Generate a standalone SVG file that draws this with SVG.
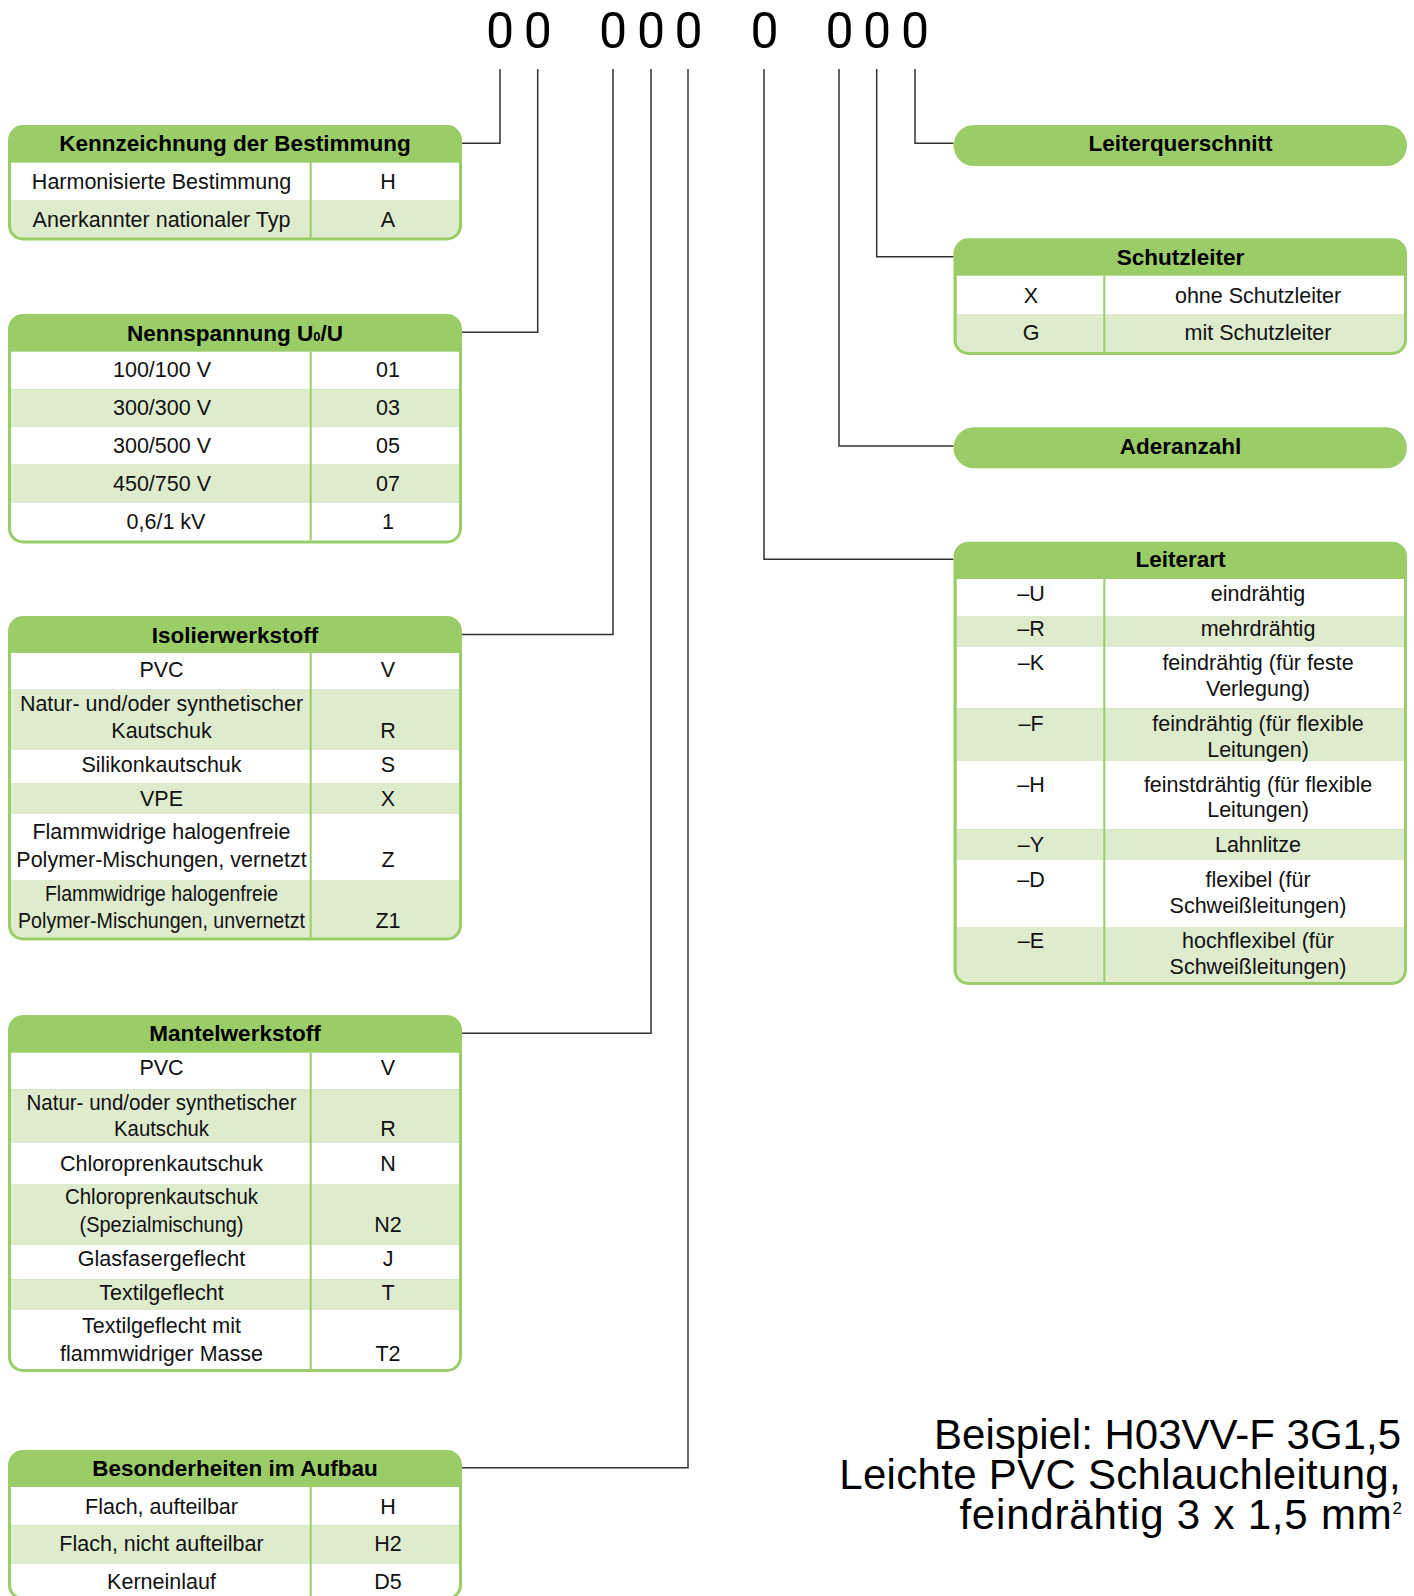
<svg xmlns="http://www.w3.org/2000/svg" width="1414" height="1596" viewBox="0 0 1414 1596">
<defs>
<style>
.frame{fill:#9ACD68}
.w{fill:#FFFFFF}
.l{fill:#DEEBCD}
.dv{stroke:#9ACD68;stroke-width:2}
.h{font-family:"Liberation Sans",Arial,sans-serif;font-weight:bold;font-size:22.5px;text-anchor:middle;fill:#000}
.t{font-family:"Liberation Sans",Arial,sans-serif;font-size:21.5px;text-anchor:middle;fill:#111}
.conn{fill:none;stroke:#333;stroke-width:1.5}
.dig{font-family:Roboto,"Liberation Sans",sans-serif;font-weight:400;font-size:50px;text-anchor:middle;fill:#000}
.ex{font-family:"Liberation Sans",Arial,sans-serif;font-size:42px;text-anchor:end;fill:#000}
</style>
<clipPath id="c1"><rect x="11" y="142" width="448" height="95.5" rx="12"/></clipPath>
<clipPath id="c2"><rect x="11" y="331" width="448" height="209.5" rx="12"/></clipPath>
<clipPath id="c3"><rect x="11" y="633" width="448" height="304.5" rx="12"/></clipPath>
<clipPath id="c4"><rect x="11" y="1032" width="448" height="337" rx="12"/></clipPath>
<clipPath id="c5"><rect x="11" y="1467" width="448" height="130" rx="12"/></clipPath>
<clipPath id="c6"><rect x="956.5" y="255" width="447.5" height="97" rx="12"/></clipPath>
<clipPath id="c7"><rect x="956.5" y="559" width="447.5" height="423" rx="12"/></clipPath>
</defs>

<g id="code-digits">
<text class="dig" x="500" y="48">0</text>
<text class="dig" x="537.7" y="48">0</text>
<text class="dig" x="613" y="48">0</text>
<text class="dig" x="651" y="48">0</text>
<text class="dig" x="688.5" y="48">0</text>
<text class="dig" x="764.5" y="48">0</text>
<text class="dig" x="839.5" y="48">0</text>
<text class="dig" x="877" y="48">0</text>
<text class="dig" x="915" y="48">0</text>
</g>

<g id="connectors">
<path class="conn" d="M500,69 V143.3 H462"/>
<path class="conn" d="M537.7,69 V332.3 H462"/>
<path class="conn" d="M613,69 V634.5 H462"/>
<path class="conn" d="M651,69 V1033.3 H462"/>
<path class="conn" d="M688,69 V1467.7 H462"/>
<path class="conn" d="M764,69 V559.3 H953.5"/>
<path class="conn" d="M839,69 V446 H953.5"/>
<path class="conn" d="M876.7,69 V256.7 H953.5"/>
<path class="conn" d="M915,69 V143.3 H953.5"/>
</g>

<g id="kennzeichnung">
<rect class="frame" x="8" y="125" width="454" height="115.5" rx="15"/>
<g clip-path="url(#c1)">
<rect class="w" x="11" y="162.7" width="448" height="37.3"/>
<rect class="l" x="11" y="200" width="448" height="40"/>
</g>
<line class="dv" x1="310.7" y1="162.7" x2="310.7" y2="237.5"/>
<text class="h" x="235" y="150.5">Kennzeichnung der Bestimmung</text>
<text class="t" x="161.5" y="189.3">Harmonisierte Bestimmung</text>
<text class="t" x="388" y="189.3">H</text>
<text class="t" x="161.5" y="226.7">Anerkannter nationaler Typ</text>
<text class="t" x="388" y="226.7">A</text>
</g>

<g id="nennspannung">
<rect class="frame" x="8" y="314" width="454" height="229.5" rx="15"/>
<g clip-path="url(#c2)">
<rect class="w" x="11" y="351.7" width="448" height="37.6"/>
<rect class="l" x="11" y="389.3" width="448" height="37.4"/>
<rect class="w" x="11" y="426.7" width="448" height="38"/>
<rect class="l" x="11" y="464.7" width="448" height="38"/>
<rect class="w" x="11" y="502.7" width="448" height="40"/>
</g>
<line class="dv" x1="310.7" y1="351.7" x2="310.7" y2="540.5"/>
<text class="h" x="235" y="340.5">Nennspannung U<tspan font-size="13px">0</tspan>/U</text>
<text class="t" x="162" y="377.3">100/100 V</text>
<text class="t" x="388" y="377.3">01</text>
<text class="t" x="162" y="415">300/300 V</text>
<text class="t" x="388" y="415">03</text>
<text class="t" x="162" y="452.7">300/500 V</text>
<text class="t" x="388" y="452.7">05</text>
<text class="t" x="162" y="490.7">450/750 V</text>
<text class="t" x="388" y="490.7">07</text>
<text class="t" x="166" y="529.3">0,6/1 kV</text>
<text class="t" x="388" y="529.3">1</text>
</g>

<g id="isolierwerkstoff">
<rect class="frame" x="8" y="616" width="454" height="324.5" rx="15"/>
<g clip-path="url(#c3)">
<rect class="w" x="11" y="653" width="448" height="36"/>
<rect class="l" x="11" y="689" width="448" height="61"/>
<rect class="w" x="11" y="750" width="448" height="33"/>
<rect class="l" x="11" y="783" width="448" height="31"/>
<rect class="w" x="11" y="814" width="448" height="66"/>
<rect class="l" x="11" y="880" width="448" height="60"/>
</g>
<line class="dv" x1="310.7" y1="653" x2="310.7" y2="937.5"/>
<text class="h" x="235" y="643.3">Isolierwerkstoff</text>
<text class="t" x="161.5" y="676.7">PVC</text>
<text class="t" x="388" y="676.7">V</text>
<text class="t" x="161.5" y="711">Natur- und/oder synthetischer</text>
<text class="t" x="161.5" y="737.7">Kautschuk</text>
<text class="t" x="388" y="737.7">R</text>
<text class="t" x="161.5" y="771.7">Silikonkautschuk</text>
<text class="t" x="388" y="771.7">S</text>
<text class="t" x="161.5" y="805.7">VPE</text>
<text class="t" x="388" y="805.7">X</text>
<text class="t" x="161.5" y="839.3">Flammwidrige halogenfreie</text>
<text class="t" x="161.5" y="866.7">Polymer-Mischungen, vernetzt</text>
<text class="t" x="388" y="866.7">Z</text>
<text class="t" x="161.5" y="901" textLength="233" lengthAdjust="spacingAndGlyphs">Flammwidrige halogenfreie</text>
<text class="t" x="161.5" y="927.7" textLength="287" lengthAdjust="spacingAndGlyphs">Polymer-Mischungen, unvernetzt</text>
<text class="t" x="388" y="927.7">Z1</text>
</g>

<g id="mantelwerkstoff">
<rect class="frame" x="8" y="1015" width="454" height="357" rx="15"/>
<g clip-path="url(#c4)">
<rect class="w" x="11" y="1052.7" width="448" height="36.6"/>
<rect class="l" x="11" y="1089.3" width="448" height="53.4"/>
<rect class="w" x="11" y="1142.7" width="448" height="41.3"/>
<rect class="l" x="11" y="1184" width="448" height="61"/>
<rect class="w" x="11" y="1245" width="448" height="34.3"/>
<rect class="l" x="11" y="1279.3" width="448" height="30.7"/>
<rect class="w" x="11" y="1310" width="448" height="62"/>
</g>
<line class="dv" x1="310.7" y1="1052.7" x2="310.7" y2="1369"/>
<text class="h" x="235" y="1040.7">Mantelwerkstoff</text>
<text class="t" x="161.5" y="1075">PVC</text>
<text class="t" x="388" y="1075">V</text>
<text class="t" x="161.5" y="1110" textLength="270" lengthAdjust="spacingAndGlyphs">Natur- und/oder synthetischer</text>
<text class="t" x="161.5" y="1136" textLength="95" lengthAdjust="spacingAndGlyphs">Kautschuk</text>
<text class="t" x="388" y="1136">R</text>
<text class="t" x="161.5" y="1171">Chloroprenkautschuk</text>
<text class="t" x="388" y="1171">N</text>
<text class="t" x="161.5" y="1204.3" textLength="193" lengthAdjust="spacingAndGlyphs">Chloroprenkautschuk</text>
<text class="t" x="161.5" y="1231.7" textLength="164" lengthAdjust="spacingAndGlyphs">(Spezialmischung)</text>
<text class="t" x="388" y="1231.7">N2</text>
<text class="t" x="161.5" y="1266">Glasfasergeflecht</text>
<text class="t" x="388" y="1266">J</text>
<text class="t" x="161.5" y="1300">Textilgeflecht</text>
<text class="t" x="388" y="1300">T</text>
<text class="t" x="161.5" y="1333.3">Textilgeflecht mit</text>
<text class="t" x="161.5" y="1360.7">flammwidriger Masse</text>
<text class="t" x="388" y="1360.7">T2</text>
</g>

<g id="besonderheiten">
<rect class="frame" x="8" y="1450" width="454" height="150" rx="15"/>
<g clip-path="url(#c5)">
<rect class="w" x="11" y="1487" width="448" height="38.5"/>
<rect class="l" x="11" y="1525.5" width="448" height="38"/>
<rect class="w" x="11" y="1563.5" width="448" height="40"/>
</g>
<line class="dv" x1="310.7" y1="1487" x2="310.7" y2="1597"/>
<text class="h" x="235" y="1475.5">Besonderheiten im Aufbau</text>
<text class="t" x="161.5" y="1513.5">Flach, aufteilbar</text>
<text class="t" x="388" y="1513.5">H</text>
<text class="t" x="161.5" y="1551">Flach, nicht aufteilbar</text>
<text class="t" x="388" y="1551">H2</text>
<text class="t" x="161.5" y="1589">Kerneinlauf</text>
<text class="t" x="388" y="1589">D5</text>
</g>

<g id="leiterquerschnitt">
<rect class="frame" x="953.5" y="125" width="453.5" height="41" rx="20.5"/>
<text class="h" x="1180.5" y="151">Leiterquerschnitt</text>
</g>

<g id="schutzleiter">
<rect class="frame" x="953.5" y="238.3" width="453.5" height="116.7" rx="15"/>
<g clip-path="url(#c6)">
<rect class="w" x="956.5" y="275.7" width="447.5" height="38.3"/>
<rect class="l" x="956.5" y="314" width="447.5" height="40"/>
</g>
<line class="dv" x1="1104.3" y1="275.7" x2="1104.3" y2="352"/>
<text class="h" x="1180.5" y="265">Schutzleiter</text>
<text class="t" x="1031" y="302.7">X</text>
<text class="t" x="1258" y="302.7">ohne Schutzleiter</text>
<text class="t" x="1031" y="340">G</text>
<text class="t" x="1258" y="340">mit Schutzleiter</text>
</g>

<g id="aderanzahl">
<rect class="frame" x="953.5" y="427.3" width="453.5" height="41" rx="20.5"/>
<text class="h" x="1180.5" y="454">Aderanzahl</text>
</g>

<g id="leiterart">
<rect class="frame" x="953.5" y="541.7" width="453.5" height="443.3" rx="15"/>
<g clip-path="url(#c7)">
<rect class="w" x="956.5" y="579" width="447.5" height="37"/>
<rect class="l" x="956.5" y="616" width="447.5" height="30.7"/>
<rect class="w" x="956.5" y="646.7" width="447.5" height="61.6"/>
<rect class="l" x="956.5" y="708.3" width="447.5" height="52.4"/>
<rect class="w" x="956.5" y="760.7" width="447.5" height="68.6"/>
<rect class="l" x="956.5" y="829.3" width="447.5" height="30.7"/>
<rect class="w" x="956.5" y="860" width="447.5" height="67.7"/>
<rect class="l" x="956.5" y="927.7" width="447.5" height="57"/>
</g>
<line class="dv" x1="1104.3" y1="579" x2="1104.3" y2="982"/>
<text class="h" x="1180.5" y="567">Leiterart</text>
<text class="t" x="1031" y="600.7">–U</text>
<text class="t" x="1258" y="600.7">eindrähtig</text>
<text class="t" x="1031" y="636">–R</text>
<text class="t" x="1258" y="636">mehrdrähtig</text>
<text class="t" x="1031" y="670">–K</text>
<text class="t" x="1258" y="670">feindrähtig (für feste</text>
<text class="t" x="1258" y="695.7">Verlegung)</text>
<text class="t" x="1031" y="731">–F</text>
<text class="t" x="1258" y="731">feindrähtig (für flexible</text>
<text class="t" x="1258" y="757">Leitungen)</text>
<text class="t" x="1031" y="791.7">–H</text>
<text class="t" x="1258" y="791.7">feinstdrähtig (für flexible</text>
<text class="t" x="1258" y="817.3">Leitungen)</text>
<text class="t" x="1031" y="851.7">–Y</text>
<text class="t" x="1258" y="851.7">Lahnlitze</text>
<text class="t" x="1031" y="886.7">–D</text>
<text class="t" x="1258" y="886.7">flexibel (für</text>
<text class="t" x="1258" y="912.7">Schweißleitungen)</text>
<text class="t" x="1031" y="948.3">–E</text>
<text class="t" x="1258" y="948.3">hochflexibel (für</text>
<text class="t" x="1258" y="974">Schweißleitungen)</text>
</g>

<g id="beispiel">
<text class="ex"><tspan x="1401" y="1448.5">Beispiel: H03VV-F 3G1,5</tspan><tspan x="1401" y="1489" letter-spacing="0.3px">Leichte PVC Schlauchleitung,</tspan><tspan x="1402" y="1529" letter-spacing="0.8px">feindrähtig 3 x 1,5 mm</tspan><tspan font-size="17px" dy="-15">2</tspan></text>
</g>
</svg>
